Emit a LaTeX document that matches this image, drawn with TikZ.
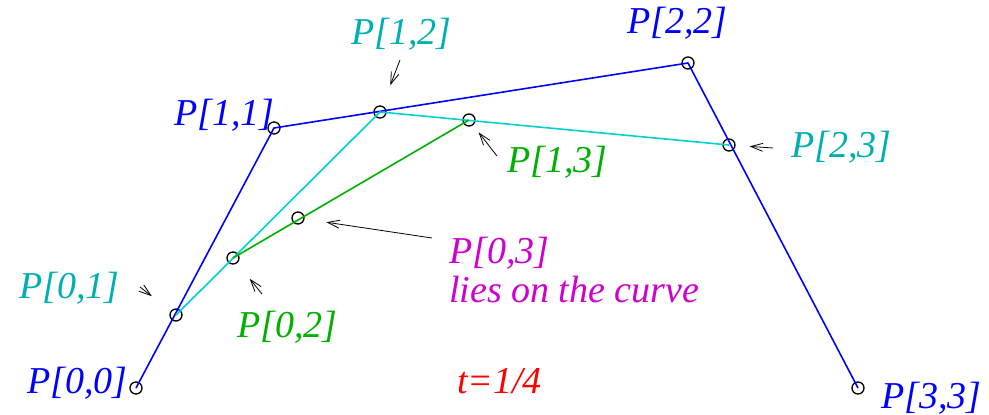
\documentclass[tikz,border=0pt]{standalone}
\usepackage{fontspec}
\usepackage{tikz}
\usepackage{xcolor}
\setmainfont{Liberation Serif}
\usetikzlibrary{arrows.meta}
\definecolor{c1}{RGB}{0,0,255}
\definecolor{c2}{RGB}{0,176,176}
\definecolor{c3}{RGB}{0,208,208}
\definecolor{c4}{RGB}{0,176,0}
\definecolor{c5}{RGB}{208,0,208}
\definecolor{c6}{RGB}{255,0,0}

\begin{document}
\begin{tikzpicture}[x=1pt, y=-1pt,
  pt/.style={circle, draw=black, line width=1.3pt, inner sep=0pt, minimum size=12pt},
  lbl/.style={anchor=base west, inner sep=0pt, font=\fontsize{38}{42}\selectfont\itshape},
  seg/.style={line width=1.6pt, line join=round},
  arr/.style={-{Straight Barb[length=12pt, width=8pt]}, line width=0.8pt}
]
  \useasboundingbox (0,0) rectangle (989,415);
  % Control points
  \node[pt] (p00) at (136,388) {};
  \node[pt] (p11) at (274,128) {};
  \node[pt] (p22) at (688,63)  {};
  \node[pt] (p33) at (858,388) {};
  % First step
  \node[pt] (p01) at (176,315) {};
  \node[pt] (p12) at (380,112) {};
  \node[pt] (p23) at (729,145) {};
  % Second step
  \node[pt] (p02) at (233,258) {};
  \node[pt] (p13) at (469,120) {};
  % Point on the curve
  \node[pt] (p03) at (298,218) {};

  \draw[seg, c1] (p00.center) -- (p11.center) -- (p22.center) -- (p33.center);
  \draw[seg, c3] (p01.center) -- (p12.center) -- (p23.center);
  \draw[seg, c4] (p02.center) -- (p13.center);

  % Labels
  \node[lbl, c1] (l00) at (27,393)  {P[0,0]};
  \node[lbl, c1] (l11) at (174,125) {P[1,1]};
  \node[lbl, c1] (l22) at (627,34)  {P[2,2]};
  \node[lbl, c1] (l33) at (881,408) {P[3,3]};
  \node[lbl, c2] (l01) at (19,298)  {P[0,1]};
  \node[lbl, c2] (l12) at (351,44)  {P[1,2]};
  \node[lbl, c2] (l23) at (791,157) {P[2,3]};
  \node[lbl, c4] (l02) at (237,337) {P[0,2]};
  \node[lbl, c4] (l13) at (507,172) {P[1,3]};
  \node[lbl, c5] (l03) at (449,263) {P[0,3]};
  \node[lbl, c5] (lcv) at (449,302) {lies on the curve};
  \node[lbl, c6] (lt)  at (457,393) {t=1/4};

  % Pointers
  \coordinate (a01) at (140,287);
  \coordinate (a02) at (262,294);
  \coordinate (a03) at (432,238);
  \coordinate (a12) at (400,60);
  \coordinate (a13) at (497,156);
  \coordinate (a23) at (773,148);
  \draw[arr, shorten >=24pt] (a01) -- (p01);
  \draw[arr, shorten >=20pt] (a02) -- (p02);
  \draw[arr, shorten >=22pt] (a03) -- (p03);
  \draw[arr, shorten >=22pt] (a12) -- (p12);
  \draw[arr, shorten >=9pt]  (a13) -- (p13);
  \draw[arr, shorten >=14pt] (a23) -- (p23);
\end{tikzpicture}
\end{document}
